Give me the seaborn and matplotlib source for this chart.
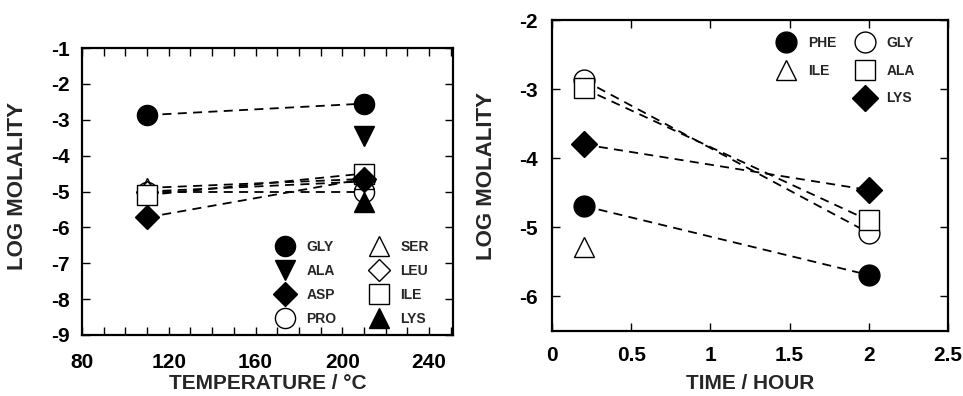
import numpy as np
import pandas as pd
import matplotlib
matplotlib.use("Agg")
import matplotlib.pyplot as plt
from matplotlib.ticker import MultipleLocator
from matplotlib.lines import Line2D
import seaborn as sns

# ---- temperature series (log molality vs temperature, degC) ----
temp_names = ["GLY", "ALA", "ASP", "PRO", "SER", "LEU", "ILE", "LYS"]
temp_x = {
    "GLY": [110, 210],
    "ALA": [210],
    "ASP": [110, 210],
    "PRO": [110, 210],
    "SER": [110, 210],
    "LEU": [110, 210],
    "ILE": [110, 210],
    "LYS": [210],
}
temp_y = {
    "GLY": [-2.87, -2.55],
    "ALA": [-3.45],
    "ASP": [-5.72, -4.65],
    "PRO": [-5.00, -5.00],
    "SER": [-4.90, -4.65],
    "LEU": [-5.00, -4.72],
    "ILE": [-5.10, -4.50],
    "LYS": [-5.30],
}

# ---- time series (log molality vs time, hours) ----
time_names = ["PHE", "ILE", "GLY", "ALA", "LYS"]
time_x = {
    "PHE": [0.2, 2.0],
    "ILE": [0.2],
    "GLY": [0.2, 2.0],
    "ALA": [0.2, 2.0],
    "LYS": [0.2, 2.0],
}
time_y = {
    "PHE": [-4.69, -5.69],
    "ILE": [-5.28],
    "GLY": [-2.87, -5.08],
    "ALA": [-2.99, -4.90],
    "LYS": [-3.80, -4.46],
}

# marker shape, filled?, size
temp_style = {
    "GLY": ("o", True, 14.5),
    "ALA": ("v", True, 14),
    "ASP": ("D", True, 12.5),
    "PRO": ("o", False, 14.5),
    "SER": ("^", False, 14),
    "LEU": ("D", False, 11.5),
    "ILE": ("s", False, 14),
    "LYS": ("^", True, 14),
}
time_style = {
    "PHE": ("o", True, 15),
    "ILE": ("^", False, 14),
    "GLY": ("o", False, 15),
    "ALA": ("s", False, 14),
    "LYS": ("D", True, 13),
}

sns.set_style("ticks")
plt.rcParams["font.family"] = ["Liberation Sans", "DejaVu Sans"]
plt.rcParams["font.weight"] = "bold"

fig = plt.figure(figsize=(9.63, 3.96), dpi=100)
ax1 = fig.add_axes([82 / 963, 1 - 335 / 396, (453 - 82) / 963, (335 - 48) / 396])
ax2 = fig.add_axes([552 / 963, 1 - 331 / 396, (948 - 552) / 963, (331 - 20) / 396])


def draw(ax, names, xs, ys, styles):
    handles = {}
    for n in names:
        m, filled, ms = styles[n]
        df = pd.DataFrame({"x": xs[n], "y": ys[n]})
        sns.lineplot(data=df, x="x", y="y", ax=ax, color="black",
                     linestyle=(0, (5, 3.5)), linewidth=1.3,
                     marker=m, markersize=ms,
                     markerfacecolor="black" if filled else "white",
                     markeredgecolor="black", markeredgewidth=1.0,
                     zorder=3 if filled else 2)
        handles[n] = Line2D([], [], linestyle="none", marker=m, markersize=ms,
                            markerfacecolor="black" if filled else "white",
                            markeredgecolor="black", markeredgewidth=1.0)
    return handles


h1 = draw(ax1, temp_names, temp_x, temp_y, temp_style)
h2 = draw(ax2, time_names, time_x, time_y, time_style)

for ax in (ax1, ax2):
    for sp in ax.spines.values():
        sp.set_linewidth(1.6)
        sp.set_color("black")
        sp.set_visible(True)
    ax.tick_params(which="both", direction="in", top=True, right=True,
                   colors="black", width=1.0, labelsize=15)
    ax.tick_params(which="major", length=6)
    ax.tick_params(which="minor", length=6)

# left panel axes
ax1.set_xlim(80, 251)
ax1.set_ylim(-9, -1)
ax1.set_xticks([80, 120, 160, 200, 240])
ax1.xaxis.set_minor_locator(MultipleLocator(10))
ax1.set_yticks(np.arange(-9, 0, 1))
ax1.set_yticklabels([f"-{abs(v)}" for v in range(-9, 0)])
ax1.tick_params(axis="x", which="both", pad=13)
ax1.tick_params(axis="y", pad=9)
ax1.set_xlabel("TEMPERATURE / °C", fontsize=15, fontweight="bold")
ax1.set_ylabel("LOG MOLALITY", fontsize=16, fontweight="bold")
ax1.xaxis.set_label_coords(0.5, -0.136)
ax1.yaxis.set_label_coords(-0.146, 0.52)

# right panel axes
ax2.set_xlim(0, 2.5)
ax2.set_ylim(-6.5, -2)
ax2.set_xticks([0, 0.5, 1, 1.5, 2, 2.5])
ax2.set_xticklabels(["0", "0.5", "1", "1.5", "2", "2.5"])
ax2.set_yticks([-6, -5, -4, -3, -2])
ax2.set_yticklabels(["-6", "-5", "-4", "-3", "-2"])
ax2.tick_params(axis="x", which="both", pad=11)
ax2.tick_params(axis="y", pad=10)
ax2.set_xlabel("TIME / HOUR", fontsize=15, fontweight="bold")
ax2.set_ylabel("LOG MOLALITY", fontsize=16, fontweight="bold")
ax2.xaxis.set_label_coords(0.5, -0.138)
ax2.yaxis.set_label_coords(-0.139, 0.5)

for ax in (ax1, ax2):
    for lab in ax.get_xticklabels() + ax.get_yticklabels():
        lab.set_fontweight("bold")

leg1 = ax1.legend([h1[n] for n in temp_names], temp_names, ncol=2,
                  frameon=False, loc="upper left",
                  bbox_to_anchor=(0.5, 0.355), prop={"size": 10, "weight": "bold"},
                  handletextpad=0.8, columnspacing=2.3, labelspacing=0.72,
                  handlelength=1.5, borderpad=0)

blank = Line2D([], [], linestyle="none", marker=None)
leg2 = ax2.legend([h2["PHE"], h2["ILE"], blank, h2["GLY"], h2["ALA"], h2["LYS"]],
                  ["PHE", "ILE", "", "GLY", "ALA", "LYS"], ncol=2,
                  frameon=False, loc="upper left",
                  bbox_to_anchor=(0.548, 0.97), prop={"size": 10, "weight": "bold"},
                  handletextpad=0.8, columnspacing=1.3, labelspacing=0.98,
                  handlelength=1.5, borderpad=0)

fig.savefig("out.png", dpi=100)
